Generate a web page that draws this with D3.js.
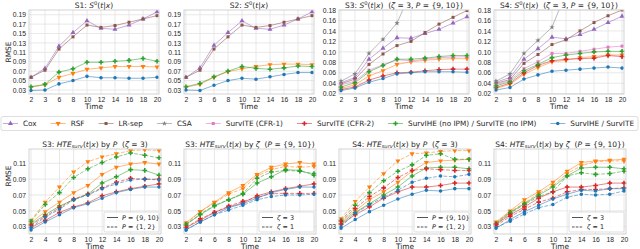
<!DOCTYPE html>
<html lang="en">
<head>
<meta charset="UTF-8">
<title>RMSE of survival and HTE estimates</title>
<script src="https://d3js.org/d3.v7.min.js"></script>
<style>
  body { margin: 0; background: #fff; }
  svg { display: block; font-family: "DejaVu Sans", sans-serif; }
  text { white-space: pre; fill: #262626; }
  .grid line { stroke: #e2e2e2; stroke-width: 0.8; }
  .tick text { font-size: 6.8px; }
  .spine { fill: none; stroke: #c8c8c8; stroke-width: 0.8; }
  .title { font-size: 7.5px; }
  .label { font-size: 7.4px; }
  .legend text { font-size: 7.3px; }
</style>
</head>
<body>
<svg width="640" height="249"></svg>
<script>
// ---- data ----
const topTimes = ["2", "3", "6", "8", "10", "12", "14", "16", "18", "20"];
const bottomTimes = ["2", "4", "6", "8", "10", "12", "14", "16", "18", "20"];

const methodNames = ["Cox", "RSF", "LR-sep", "CSA", "SurvITE (CFR-1)", "SurvITE (CFR-2)",
  "SurvIHE (no IPM) / SurvITE (no IPM)", "SurvIHE / SurvITE"];
const methodColors = ["#9467bd", "#ff7f0e", "#8c564b", "#7f7f7f", "#e377c2", "#d62728", "#2ca02c", "#1f77b4"];
const methodMarkers = ["triUp", "triDown", "square", "star", "square", "plus", "plus", "circle"];

// top row: one array per method (null = method not shown), order as methodNames
const s1Rmse = [
  [0.057, 0.076, 0.123, 0.152, 0.177, 0.161, 0.159, 0.168, 0.181, 0.196],
  [0.036, 0.041, 0.057, 0.065, 0.074, 0.077, 0.080, 0.080, 0.080, 0.079],
  [0.057, 0.072, 0.117, 0.143, 0.168, 0.163, 0.167, 0.174, 0.181, 0.188],
  null, null, null,
  [0.037, 0.042, 0.068, 0.075, 0.089, 0.089, 0.091, 0.093, 0.097, 0.091],
  [0.029, 0.030, 0.043, 0.050, 0.059, 0.056, 0.056, 0.055, 0.055, 0.057]
];
const s2Rmse = [
  [0.057, 0.077, 0.125, 0.152, 0.177, 0.161, 0.159, 0.168, 0.181, 0.196],
  [0.036, 0.042, 0.057, 0.069, 0.075, 0.080, 0.084, 0.085, 0.085, 0.084],
  [0.057, 0.072, 0.117, 0.143, 0.168, 0.163, 0.167, 0.174, 0.181, 0.188],
  null, null, null,
  [0.037, 0.044, 0.058, 0.070, 0.080, 0.076, 0.074, 0.077, 0.081, 0.080],
  [0.030, 0.029, 0.040, 0.050, 0.055, 0.053, 0.058, 0.063, 0.067, 0.067]
];
const s3Rmse = [
  [0.041, 0.051, 0.086, 0.107, 0.127, 0.126, 0.135, 0.143, 0.155, 0.167],
  [0.030, 0.037, 0.054, 0.064, 0.076, 0.081, 0.084, 0.086, 0.087, 0.087],
  [0.039, 0.048, 0.076, 0.096, 0.112, 0.120, 0.137, 0.153, 0.166, 0.179],
  [0.044, 0.058, 0.097, 0.124, 0.155, 0.215, 0.250, 0.280, 0.310, 0.340],
  [0.037, 0.044, 0.065, 0.075, 0.085, 0.083, 0.086, 0.089, 0.090, 0.091],
  [0.028, 0.033, 0.046, 0.054, 0.060, 0.061, 0.064, 0.066, 0.067, 0.067],
  [0.033, 0.041, 0.062, 0.074, 0.086, 0.086, 0.088, 0.091, 0.093, 0.093],
  [0.026, 0.031, 0.042, 0.049, 0.058, 0.060, 0.062, 0.062, 0.062, 0.061]
];
const s4Rmse = [
  [0.042, 0.051, 0.086, 0.106, 0.128, 0.125, 0.133, 0.143, 0.156, 0.168],
  [0.030, 0.038, 0.057, 0.070, 0.081, 0.084, 0.089, 0.091, 0.094, 0.094],
  [0.040, 0.047, 0.078, 0.095, 0.114, 0.123, 0.140, 0.156, 0.169, 0.180],
  [0.044, 0.058, 0.097, 0.122, 0.147, 0.213, 0.250, 0.280, 0.310, 0.340],
  [0.037, 0.046, 0.068, 0.081, 0.097, 0.097, 0.101, 0.105, 0.109, 0.111],
  [0.032, 0.040, 0.060, 0.074, 0.083, 0.086, 0.087, 0.088, 0.093, 0.091],
  [0.035, 0.043, 0.064, 0.076, 0.089, 0.094, 0.097, 0.100, 0.101, 0.101],
  [0.027, 0.032, 0.048, 0.056, 0.063, 0.065, 0.067, 0.069, 0.071, 0.069]
];

// bottom row methods: RSF, no IPM, CFR-2, SurvITE
const bottomMethods = [1, 6, 5, 7];
// S3, P = {9,10}, zeta = 3 (solid in both S3 panels)
const s3Base = [
  [0.035, 0.049, 0.061, 0.073, 0.082, 0.096, 0.105, 0.109, 0.111, 0.109],
  [0.033, 0.045, 0.056, 0.064, 0.071, 0.085, 0.093, 0.102, 0.101, 0.095],
  [0.029, 0.038, 0.048, 0.055, 0.060, 0.069, 0.074, 0.078, 0.081, 0.084],
  [0.026, 0.036, 0.045, 0.054, 0.059, 0.066, 0.073, 0.077, 0.080, 0.080]
];
const s3SmallP = [
  [0.038, 0.061, 0.080, 0.099, 0.112, 0.118, 0.122, 0.126, 0.127, 0.126],
  [0.037, 0.058, 0.073, 0.092, 0.103, 0.111, 0.118, 0.123, 0.120, 0.117],
  [0.032, 0.043, 0.054, 0.065, 0.071, 0.079, 0.086, 0.091, 0.090, 0.090],
  [0.029, 0.042, 0.052, 0.064, 0.070, 0.078, 0.084, 0.089, 0.090, 0.089]
];
const s3Zeta1 = [
  [0.033, 0.049, 0.060, 0.071, 0.078, 0.094, 0.102, 0.106, 0.105, 0.106],
  [0.032, 0.046, 0.057, 0.064, 0.072, 0.091, 0.099, 0.101, 0.100, 0.097],
  [0.029, 0.040, 0.048, 0.056, 0.062, 0.067, 0.072, 0.072, 0.072, 0.072],
  [0.026, 0.036, 0.045, 0.051, 0.057, 0.064, 0.068, 0.070, 0.070, 0.071]
];
const s4Base = [
  [0.036, 0.050, 0.064, 0.074, 0.086, 0.100, 0.111, 0.113, 0.114, 0.115],
  [0.034, 0.048, 0.059, 0.070, 0.080, 0.094, 0.104, 0.105, 0.105, 0.103],
  [0.033, 0.045, 0.055, 0.066, 0.074, 0.080, 0.080, 0.082, 0.085, 0.085],
  [0.028, 0.039, 0.049, 0.057, 0.065, 0.071, 0.076, 0.075, 0.078, 0.078]
];
const s4SmallP = [
  [0.040, 0.062, 0.080, 0.097, 0.113, 0.122, 0.123, 0.125, 0.126, 0.126],
  [0.038, 0.057, 0.073, 0.088, 0.100, 0.108, 0.120, 0.122, 0.115, 0.115],
  [0.037, 0.053, 0.068, 0.079, 0.092, 0.101, 0.103, 0.102, 0.101, 0.101],
  [0.030, 0.047, 0.058, 0.067, 0.076, 0.086, 0.091, 0.094, 0.093, 0.096]
];
const s4Zeta1 = [
  [0.035, 0.049, 0.060, 0.072, 0.082, 0.097, 0.107, 0.112, 0.113, 0.113],
  [0.033, 0.047, 0.058, 0.068, 0.074, 0.094, 0.098, 0.096, 0.097, 0.100],
  [0.031, 0.043, 0.052, 0.061, 0.066, 0.074, 0.077, 0.077, 0.078, 0.079],
  [0.029, 0.037, 0.046, 0.054, 0.058, 0.067, 0.071, 0.070, 0.071, 0.075]
];

const topTicksA = [0.03, 0.05, 0.07, 0.09, 0.11, 0.13, 0.15, 0.17, 0.19];
const topTicksB = [0.02, 0.04, 0.06, 0.08, 0.10, 0.12, 0.14, 0.16, 0.18];
const bottomTicks = [0.03, 0.05, 0.07, 0.09, 0.11];

// ---- layout ----
const svg = d3.select("svg");
const lefts = [29, 184, 339, 494];
const topRow = { y: 10, h: 84, w: 130 };
const botRow = { y: 149, h: 85, w: 132 };

function sTitle(name, extra) {
  return [[name + ": "], ["S", "i"], ["0", "sup"], ["("], ["t", "i"], ["|"], ["x", "i"], [")"]].concat(extra || []);
}
function hTitle(name, extra) {
  return [[name + ": "], ["HTE", "i"], ["surv", "sub"], ["("], ["t", "i"], ["|"], ["x", "i"], [")"], [" by "]].concat(extra);
}
const cond = [["  ("], ["ζ", "i"], [" = 3, "], ["P", "i"], [" = {9, 10})"]];

function markerPath(kind) {
  const sym = {
    triUp: [d3.symbolTriangle, 11], triDown: [d3.symbolTriangle, 11], square: [d3.symbolSquare, 9],
    star: [d3.symbolStar, 9], plus: [d3.symbolCross, 12], circle: [d3.symbolCircle, 10]
  }[kind];
  return d3.symbol(sym[0], sym[1])();
}

function richText(sel, segs) {
  let shift = 0;
  segs.forEach(([s, st]) => {
    const t = sel.append("tspan").text(s);
    let want = 0;
    if (st === "i") t.style("font-style", "italic");
    if (st === "sup") { want = -2.8; t.style("font-size", "5.2px"); }
    if (st === "sub") { want = 1.6; t.style("font-size", "5.2px").style("font-style", "italic"); }
    if (want !== shift) { t.attr("dy", want - shift); shift = want; }
  });
}

let clipId = 0;
function panel(o) {
  const g = svg.append("g").attr("transform", `translate(${o.x},${o.y})`);
  const x = d3.scalePoint().domain(o.times).range([0, o.w]).padding(0.14);
  const y = d3.scaleLinear().domain(o.yDomain).range([o.h, 0]);

  const grid = g.append("g").attr("class", "grid");
  grid.selectAll(".v").data(o.times).join("line")
    .attr("x1", d => x(d)).attr("x2", d => x(d)).attr("y1", 0).attr("y2", o.h);
  grid.selectAll(".h").data(o.ticks).join("line").attr("class", "h")
    .attr("x1", 0).attr("x2", o.w).attr("y1", d => y(d)).attr("y2", d => y(d));

  g.append("g").attr("transform", `translate(0,${o.h})`)
    .call(d3.axisBottom(x).tickSize(0).tickPadding(3))
    .call(a => a.select(".domain").remove());
  g.append("g")
    .call(d3.axisLeft(y).tickValues(o.ticks).tickFormat(d3.format(".2f")).tickSize(0).tickPadding(3))
    .call(a => a.select(".domain").remove());

  const id = "clip" + (clipId++);
  g.append("clipPath").attr("id", id).append("rect")
    .attr("x", -4).attr("y", 0).attr("width", o.w + 8).attr("height", o.h);
  const plot = g.append("g").attr("clip-path", `url(#${id})`);
  const line = d3.line().x((d, i) => x(o.times[i])).y(d => y(d));

  o.series.forEach(s => {
    plot.append("path").datum(s.values)
      .attr("d", line).attr("fill", "none")
      .attr("stroke", s.color).attr("stroke-width", 1).attr("stroke-opacity", 0.55)
      .attr("stroke-dasharray", s.dashed ? "3.7,1.6" : null);
    plot.selectAll(null).data(s.values).join("path")
      .attr("d", markerPath(s.marker)).attr("fill", s.color)
      .attr("transform", (d, i) => `translate(${x(o.times[i])},${y(d)})${s.marker === "triDown" ? " rotate(180)" : ""}`);
  });

  g.append("rect").attr("class", "spine").attr("width", o.w).attr("height", o.h);

  richText(g.append("text").attr("class", "title").attr("x", o.w / 2).attr("y", -2.5)
    .attr("text-anchor", "middle"), o.title);
  g.append("text").attr("class", "label").attr("x", o.w / 2).attr("y", o.h + 14.5)
    .attr("text-anchor", "middle").text("Time");
  if (o.ylabel) {
    g.append("text").attr("class", "label").attr("text-anchor", "middle")
      .attr("transform", `translate(${-o.x + 11},${o.ylabelY - o.y}) rotate(-90)`).text("RMSE");
  }
  if (o.legend) {
    const lw = 55, lh = 20;
    const lg = g.append("g").attr("class", "legend").attr("transform", `translate(${o.w - lw - 2},${o.h - lh - 2})`);
    lg.append("rect").attr("width", lw).attr("height", lh).attr("rx", 1.5)
      .attr("fill", "#fff").attr("fill-opacity", 0.85).attr("stroke", "#d0d0d0").attr("stroke-width", 0.7);
    o.legend.forEach((segs, i) => {
      const yy = 5.5 + i * 9.5;
      lg.append("line").attr("x1", 3).attr("x2", 14).attr("y1", yy).attr("y2", yy)
        .attr("stroke", "#555").attr("stroke-width", 1).attr("stroke-dasharray", i ? "2.6,1.2" : null);
      richText(lg.append("text").attr("x", 18).attr("y", yy + 2.4).style("font-size", "6.4px"), segs);
    });
  }
}

const topPanels = [
  { data: s1Rmse, ticks: topTicksA, dom: [0.0215, 0.200], title: sTitle("S1") },
  { data: s2Rmse, ticks: topTicksA, dom: [0.0215, 0.200], title: sTitle("S2") },
  { data: s3Rmse, ticks: topTicksB, dom: [0.0195, 0.180], title: sTitle("S3", cond) },
  { data: s4Rmse, ticks: topTicksB, dom: [0.0195, 0.180], title: sTitle("S4", cond) }
];
topPanels.forEach((p, k) => {
  const series = [];
  p.data.forEach((vals, m) => {
    if (vals) series.push({ values: vals, color: methodColors[m], marker: methodMarkers[m] });
  });
  panel({ x: lefts[k], y: topRow.y, w: topRow.w, h: topRow.h, times: topTimes,
    yDomain: p.dom, ticks: p.ticks, series, title: p.title, ylabel: k === 0, ylabelY: 52 });
});

const pLegend = [[["P", "i"], [" = {9, 10}"]], [["P", "i"], [" = {1, 2}"]]];
const zLegend = [[["ζ", "i"], [" = 3"]], [["ζ", "i"], [" = 1"]]];
const botPanels = [
  { solid: s3Base, dashed: s3SmallP, title: hTitle("S3", [["P", "i"], ["  ("], ["ζ", "i"], [" = 3)"]]), legend: pLegend },
  { solid: s3Base, dashed: s3Zeta1, title: hTitle("S3", [["ζ", "i"], ["  ("], ["P", "i"], [" = {9, 10})"]]), legend: zLegend },
  { solid: s4Base, dashed: s4SmallP, title: hTitle("S4", [["P", "i"], ["  ("], ["ζ", "i"], [" = 3)"]]), legend: pLegend },
  { solid: s4Base, dashed: s4Zeta1, title: hTitle("S4", [["ζ", "i"], ["  ("], ["P", "i"], [" = {9, 10})"]]), legend: zLegend }
];
botPanels.forEach((p, k) => {
  const series = [];
  bottomMethods.forEach((m, j) => {
    series.push({ values: p.dashed[j], color: methodColors[m], marker: methodMarkers[m], dashed: true });
    series.push({ values: p.solid[j], color: methodColors[m], marker: methodMarkers[m] });
  });
  panel({ x: lefts[k], y: botRow.y, w: botRow.w, h: botRow.h, times: bottomTimes,
    yDomain: [0.0208, 0.128], ticks: bottomTicks, series, title: p.title, ylabel: k === 0, ylabelY: 176,
    legend: p.legend });
});

// ---- shared legend ----
const leg = svg.append("g").attr("class", "legend");
leg.append("rect").attr("x", 1).attr("y", 116.5).attr("width", 637).attr("height", 14)
  .attr("rx", 2).attr("fill", "#fff").attr("stroke", "#d0d0d0").attr("stroke-width", 0.7);
const items = methodNames.map((name, m) => {
  const it = leg.append("g");
  it.append("line").attr("x1", 0).attr("x2", 15).attr("y1", 0).attr("y2", 0)
    .attr("stroke", methodColors[m]).attr("stroke-opacity", 0.55).attr("stroke-width", 1);
  it.append("path").attr("d", markerPath(methodMarkers[m])).attr("fill", methodColors[m])
    .attr("transform", `translate(7.5,0)${methodMarkers[m] === "triDown" ? " rotate(180)" : ""}`);
  const t = it.append("text").attr("x", 20).attr("y", 2.5).text(name);
  return { g: it, w: 20 + t.node().getComputedTextLength() };
});
const used = d3.sum(items, d => d.w);
const gap = (634 - 3 - used) / (items.length - 1);
let cx = 3;
items.forEach(d => { d.g.attr("transform", `translate(${cx},123.5)`); cx += d.w + gap; });
</script>
</body>
</html>
